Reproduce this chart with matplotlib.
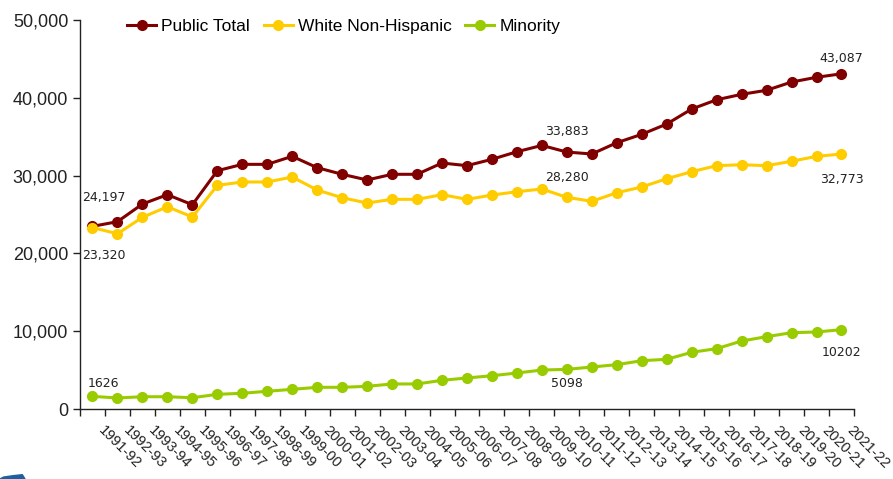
import matplotlib.pyplot as plt
from matplotlib.ticker import FuncFormatter
from matplotlib.transforms import ScaledTranslation
from matplotlib.patches import Polygon

# school years on the x axis
years = ["1991-92", "1992-93", "1993-94", "1994-95", "1995-96", "1996-97",
         "1997-98", "1998-99", "1999-00", "2000-01", "2001-02", "2002-03",
         "2003-04", "2004-05", "2005-06", "2006-07", "2007-08", "2008-09",
         "2009-10", "2010-11", "2011-12", "2012-13", "2013-14", "2014-15",
         "2015-16", "2016-17", "2017-18", "2018-19", "2019-20", "2020-21",
         "2021-22"]

public_total = [23480, 24080, 26350, 27550, 26260, 30630, 31450, 31450,
                32480, 31020, 30170, 29440, 30170, 30170, 31620, 31280,
                32100, 33070, 33883, 33030, 32780, 34230, 35310, 36630,
                38560, 39750, 40450, 40970, 42030, 42640, 43087]

white_non_hispanic = [23320, 22530, 24640, 26000, 24680, 28750, 29180, 29180,
                      29820, 28150, 27160, 26480, 26950, 26950, 27550, 26950,
                      27500, 27930, 28280, 27210, 26700, 27800, 28540, 29600,
                      30500, 31280, 31400, 31280, 31840, 32480, 32773]

minority = [1626, 1420, 1580, 1580, 1450, 1890, 2020, 2280, 2530, 2790,
            2790, 2920, 3220, 3220, 3690, 3990, 4280, 4630, 5010, 5098,
            5400, 5700, 6210, 6390, 7290, 7760, 8740, 9300, 9810, 9900,
            10202]

# data labels: (category index, value shown, y position in data units)
public_labels = [(0, "24,197", 27200), (19, "33,883", 35700), (30, "43,087", 45100)]
white_labels = [(0, "23,320", 19700), (19, "28,280", 29800), (30, "32,773", 29500)]
minority_labels = [(0, "1626", 3300), (19, "5098", 3300), (30, "10202", 7300)]

fig = plt.figure(figsize=(8.93, 4.79), dpi=100)
ax = fig.add_axes([0.0896, 0.1461, 0.8667, 0.8121])

x = list(range(len(years)))
ax.plot(x, public_total, color="#800000", lw=2.2, marker="o", ms=7,
        label="Public Total", zorder=3)
ax.plot(x, white_non_hispanic, color="#FFCC00", lw=2.2, marker="o", ms=7,
        label="White Non-Hispanic", zorder=3)
ax.plot(x, minority, color="#99CC00", lw=2.2, marker="o", ms=7,
        label="Minority", zorder=3)

for labels in (public_labels, white_labels, minority_labels):
    for i, txt, ypos in labels:
        ax.text(i + 0.45 if i == 0 else i, ypos, txt, ha="center", va="center",
                fontsize=9, family="DejaVu Sans", color="#222222")

ax.set_xlim(-0.5, len(years) - 0.5)
ax.set_ylim(0, 50000)
ax.set_yticks(range(0, 50001, 10000))
ax.yaxis.set_major_formatter(FuncFormatter(lambda v, p: f"{int(v):,}"))
ax.tick_params(axis="y", labelsize=13, length=5, width=1, colors="#222222")
for lab in ax.get_yticklabels():
    lab.set_family("Liberation Sans")

# tick marks sit between categories, labels sit under each category
ax.set_xticks([i - 0.5 for i in range(len(years) + 1)])
ax.set_xticklabels([])
ax.set_xticks(x, minor=True)
ax.set_xticklabels(years, minor=True, rotation=-45, ha="left", va="top",
                   rotation_mode="anchor", fontsize=10.5,
                   family="Liberation Sans", color="#222222")
ax.tick_params(axis="x", which="major", length=5, width=1, color="#222222")
ax.tick_params(axis="x", which="minor", length=0, pad=12)
shift = ScaledTranslation(0.13, 0.02, fig.dpi_scale_trans)
for lab in ax.get_xticklabels(minor=True):
    lab.set_transform(lab.get_transform() + shift)

for side in ("top", "right"):
    ax.spines[side].set_visible(False)
for side in ("left", "bottom"):
    ax.spines[side].set_color("#222222")
    ax.spines[side].set_linewidth(1)

ax.legend(loc="upper left", bbox_to_anchor=(0.041, 1.043), ncol=3,
          frameon=False, handlelength=1.65, handletextpad=0.3,
          columnspacing=0.8, prop={"family": "Liberation Sans", "size": 12.5})

# clipped logo fragment in the lower left corner
fig.patches.append(Polygon([(0, 0), (0.004, 0.004), (0.015, 0.007),
                            (0.025, 0.009), (0.028, 0.0)], closed=True,
                           transform=fig.transFigure, color="#1f5fa0"))

plt.savefig("out.png", dpi=100)
plt.close()
